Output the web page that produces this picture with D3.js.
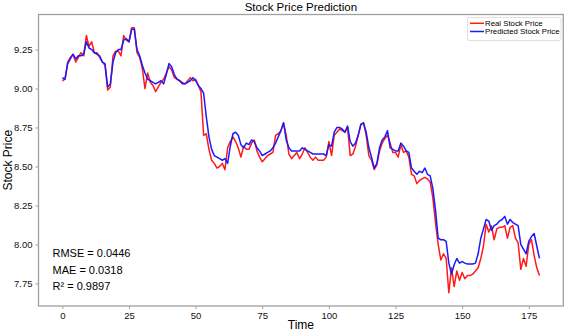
<!DOCTYPE html>
<html>
<head>
<meta charset="utf-8">
<title>Stock Price Prediction</title>
<script src="https://d3js.org/d3.v7.min.js"></script>
<style>
  body { margin: 0; background: #fff; }
  svg { display: block; font-family: "Liberation Sans", Arial, sans-serif; }
  .axis path, .axis line { stroke: #a0a0a0; }
  .axis text { fill: #111; font-size: 9.5px; }
</style>
</head>
<body>
<div id="chart"></div>
<script>
// values
const realPrice = [
  9.05, 9.06, 9.17, 9.20, 9.22, 9.17, 9.20, 9.23, 9.21, 9.34,
  9.27, 9.30, 9.23, 9.23, 9.20, 9.17, 9.15, 8.99, 9.01, 9.21,
  9.24, 9.24, 9.21, 9.34, 9.31, 9.30, 9.39, 9.39, 9.23, 9.20,
  9.13, 9.00, 9.10, 9.04, 9.02, 8.98, 9.01, 9.04, 9.06, 9.10,
  9.14, 9.12, 9.07, 9.06, 9.05, 9.04, 9.03, 9.05, 9.07, 9.05,
  9.06, 9.02, 8.98, 8.70, 8.71, 8.61, 8.54, 8.52, 8.49, 8.50,
  8.52, 8.48, 8.62, 8.66, 8.69, 8.66, 8.62, 8.56, 8.63, 8.61,
  8.61, 8.65, 8.67, 8.60, 8.56, 8.53, 8.55, 8.57, 8.58, 8.59,
  8.70, 8.71, 8.73, 8.78, 8.70, 8.58, 8.55, 8.57, 8.59, 8.55,
  8.58, 8.62, 8.59, 8.56, 8.54, 8.56, 8.54, 8.54, 8.54, 8.56,
  8.66, 8.57, 8.70, 8.72, 8.74, 8.73, 8.72, 8.75, 8.57, 8.58,
  8.63, 8.70, 8.77, 8.78, 8.70, 8.57, 8.54, 8.48, 8.51, 8.60,
  8.65, 8.68, 8.70, 8.65, 8.59, 8.59, 8.56, 8.64, 8.59, 8.60,
  8.56, 8.45, 8.44, 8.39, 8.41, 8.42, 8.43, 8.42, 8.40, 8.30,
  8.14, 8.00, 7.90, 7.94, 7.91, 7.69, 7.85, 7.73, 7.83, 7.77,
  7.82, 7.78, 7.80, 7.80, 7.81, 7.83, 7.85, 7.91, 7.99, 8.13,
  8.08, 8.12, 8.03, 8.10, 8.11, 8.11, 8.12, 8.04, 8.11, 8.12,
  8.04, 8.01, 7.84, 7.91, 7.86, 8.00, 8.03, 7.93, 7.85, 7.80
];
const predictedPrice = [
  9.07, 9.06, 9.16, 9.19, 9.22, 9.19, 9.21, 9.21, 9.22, 9.30,
  9.26, 9.25, 9.23, 9.22, 9.21, 9.17, 9.16, 9.01, 9.03, 9.17,
  9.23, 9.25, 9.25, 9.31, 9.32, 9.30, 9.38, 9.38, 9.25, 9.21,
  9.15, 9.10, 9.06, 9.05, 9.04, 9.03, 9.04, 9.05, 9.03, 9.09,
  9.16, 9.14, 9.09, 9.06, 9.05, 9.03, 9.03, 9.04, 9.05, 9.07,
  9.05, 9.02, 9.00, 8.97, 8.82, 8.69, 8.61, 8.57, 8.56, 8.55,
  8.54, 8.55, 8.52, 8.63, 8.71, 8.72, 8.70, 8.64, 8.62, 8.65,
  8.64, 8.67, 8.66, 8.62, 8.60, 8.57, 8.58, 8.59, 8.60, 8.62,
  8.65, 8.69, 8.73, 8.78, 8.67, 8.62, 8.60, 8.60, 8.60, 8.60,
  8.62, 8.61, 8.60, 8.59, 8.58, 8.58, 8.58, 8.58, 8.58, 8.57,
  8.64, 8.63, 8.72, 8.75, 8.75, 8.74, 8.72, 8.76, 8.66, 8.63,
  8.65, 8.70, 8.77, 8.78, 8.72, 8.62, 8.56, 8.49, 8.52, 8.62,
  8.67, 8.69, 8.73, 8.62, 8.61, 8.60, 8.60, 8.65, 8.63, 8.60,
  8.59, 8.49, 8.47, 8.45, 8.47, 8.46, 8.49, 8.45, 8.44, 8.36,
  8.22, 8.04, 8.03, 8.03, 8.02, 7.88, 7.81, 7.87, 7.91, 7.88,
  7.89, 7.88, 7.875, 7.875, 7.875, 7.88, 7.94, 8.04, 8.10, 8.16,
  8.15, 8.09, 8.12, 8.13, 8.15, 8.16, 8.18, 8.13, 8.16, 8.14,
  8.13, 8.12, 8.00, 7.97, 7.94, 8.02, 8.05, 8.07, 7.99, 7.91
];
const xTicks = [0, 25, 50, 75, 100, 125, 150, 175];
const yTicks = [7.75, 8.00, 8.25, 8.50, 8.75, 9.00, 9.25];
const seriesNames = ["Real Stock Price", "Predicted Stock Price"];
const seriesColors = ["#ff1a1a", "#1a1aff"];
const metrics = ["RMSE = 0.0446", "MAE = 0.0318", "R\u00b2 = 0.9897"];

const W = 567, H = 331;
const margin = { top: 14.5, right: 3.7, bottom: 25, left: 38.5 };

const svg = d3.select("#chart").append("svg")
  .attr("width", W).attr("height", H);

// 5% padding on each side, like matplotlib
const n = realPrice.length;
const xPad = (n - 1) * 0.05;
const x = d3.scaleLinear()
  .domain([-xPad, n - 1 + xPad])
  .range([margin.left, W - margin.right]);

const allVals = realPrice.concat(predictedPrice);
const yMin = d3.min(allVals), yMax = d3.max(allVals);
const yPad = (yMax - yMin) * 0.05;
const y = d3.scaleLinear()
  .domain([yMin - yPad, yMax + yPad])
  .range([H - margin.bottom, margin.top]);

// axes
svg.append("g")
  .attr("class", "axis")
  .attr("transform", `translate(0,${H - margin.bottom})`)
  .call(d3.axisBottom(x).tickValues(xTicks).tickSize(3).tickPadding(3).tickSizeOuter(0))
  .call(g => g.select(".domain").remove());

svg.append("g")
  .attr("class", "axis")
  .attr("transform", `translate(${margin.left},0)`)
  .call(d3.axisLeft(y).tickValues(yTicks).tickFormat(d3.format(".2f")).tickSize(3).tickPadding(3).tickSizeOuter(0))
  .call(g => g.select(".domain").remove());

// frame
svg.append("rect")
  .attr("x", margin.left).attr("y", margin.top)
  .attr("width", W - margin.right - margin.left)
  .attr("height", H - margin.bottom - margin.top)
  .attr("fill", "none")
  .attr("stroke", "#a0a0a0")
  .attr("stroke-width", 1.3);

// lines
const line = d3.line().x((d, i) => x(i)).y(d => y(d));
[realPrice, predictedPrice].forEach((s, k) => {
  svg.append("path")
    .datum(s)
    .attr("fill", "none")
    .attr("stroke", seriesColors[k])
    .attr("stroke-width", 1.5)
    .attr("stroke-linejoin", "round")
    .attr("d", line);
});

// title and labels
svg.append("text")
  .attr("x", (margin.left + W - margin.right) / 2).attr("y", 10.5)
  .attr("text-anchor", "middle")
  .style("font-size", "11.5px")
  .text("Stock Price Prediction");

svg.append("text")
  .attr("x", (margin.left + W - margin.right) / 2).attr("y", 329)
  .attr("text-anchor", "middle")
  .style("font-size", "12px")
  .text("Time");

svg.append("text")
  .attr("transform", `translate(12,${(margin.top + H - margin.bottom) / 2}) rotate(-90)`)
  .attr("text-anchor", "middle")
  .style("font-size", "12px")
  .text("Stock Price");

// metrics box
svg.selectAll(".metric")
  .data(metrics)
  .join("text")
  .attr("class", "metric")
  .attr("x", 52.5)
  .attr("y", (d, i) => 257 + i * 16.5)
  .style("font-size", "11px")
  .text(d => d);

// legend
const lg = svg.append("g").attr("transform", "translate(467.5,17.5)");
lg.append("rect")
  .attr("width", 93.5).attr("height", 23)
  .attr("rx", 1.5)
  .attr("fill", "#fff")
  .attr("stroke", "#d8d8d8")
  .attr("stroke-width", 0.8);
seriesNames.forEach((name, k) => {
  const ly = 5.8 + k * 8.2;
  lg.append("line")
    .attr("x1", 2.5).attr("x2", 16.5)
    .attr("y1", ly).attr("y2", ly)
    .attr("stroke", seriesColors[k])
    .attr("stroke-width", 1.5);
  lg.append("text")
    .attr("x", 17.5).attr("y", ly + 2.7)
    .style("font-size", "7.8px")
    .text(name);
});
</script>
</body>
</html>
